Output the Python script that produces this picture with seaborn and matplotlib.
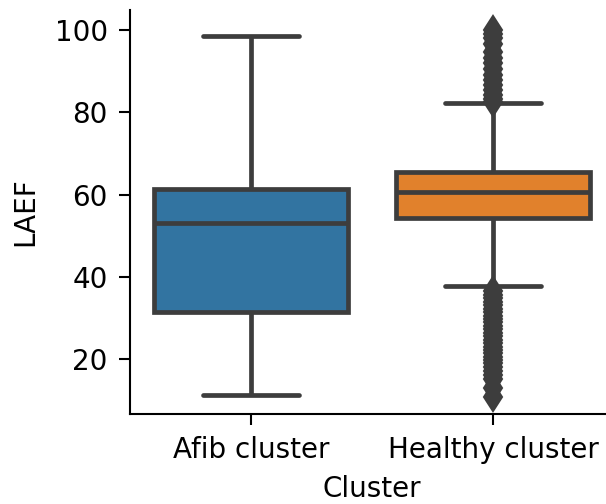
import numpy as np
import pandas as pd
import seaborn as sns
import matplotlib
matplotlib.use("Agg")
import matplotlib.pyplot as plt

# ---- data ----
clusters = ["Afib cluster", "Healthy cluster"]
box_colors = ["#1f77b4", "#ff7f0e"]

# Afib cluster: whisker low, Q1, median, Q3, whisker high
afib_values = [11.4, 31.4, 53.1, 61.5, 98.6]
afib_counts = [1, 1, 1, 1, 1]

# Healthy cluster core (whisker low, Q1, median, Q3, whisker high) with weights
healthy_core_values = [37.7, 54.4, 60.6, 65.6, 82.2]
healthy_core_counts = [1, 40, 40, 40, 1]

# Healthy cluster outliers
healthy_upper_outliers = [82.6, 83.3, 84.2, 85.4, 86.6, 87.8, 89.1, 90.5, 91.9,
                          93.2, 94.7, 96.5, 98.0, 99.0, 100.0]
healthy_lower_outliers = [36.5, 35.6, 34.8, 34.0, 33.1, 32.3, 31.5, 30.6, 29.8,
                          29.0, 28.1, 27.3, 26.5, 25.6, 24.8, 24.0, 23.1, 22.3,
                          21.5, 20.6, 19.8, 19.0, 18.1, 17.2, 16.3, 15.2, 13.0,
                          10.8]

afib = list(np.repeat(afib_values, afib_counts))
healthy = (healthy_lower_outliers
           + list(np.repeat(healthy_core_values, healthy_core_counts))
           + healthy_upper_outliers)

df = pd.DataFrame({
    "Cluster": [clusters[0]] * len(afib) + [clusters[1]] * len(healthy),
    "LAEF": afib + healthy,
})

sns.set_theme(style="ticks")
plt.rcParams["font.family"] = ["DejaVu Sans"]

fig = plt.figure(figsize=(6.06, 5.04), dpi=100)
W, H = 606, 504
ax = fig.add_axes([130 / W, (H - 414) / H, 484 / W, 404 / H])

gray = "#3d3d3d"
sns.boxplot(
    data=df, x="Cluster", y="LAEF", hue="Cluster", legend=False,
    order=clusters, hue_order=clusters, palette=box_colors, ax=ax, width=0.8,
    linewidth=3.4, linecolor=gray, saturation=0.75,
    flierprops=dict(marker="d", markersize=14.5, markerfacecolor=gray,
                    markeredgecolor=gray, markeredgewidth=1.5),
)

ax.set_xlim(-0.5, 1.5)
ax.set_ylim(6.73, 104.86)
ax.set_yticks([20, 40, 60, 80, 100])
sns.despine(ax=ax)
for s in ["left", "bottom"]:
    ax.spines[s].set_linewidth(1.5)
    ax.spines[s].set_color("black")
ax.tick_params(axis="both", labelsize=20, length=8, width=1.5, pad=8,
               color="black", labelcolor="black")
ax.set_xlabel("Cluster", fontsize=20, color="black", labelpad=8)
ax.set_ylabel("LAEF", fontsize=20, color="black", labelpad=11)

fig.savefig("out.png", dpi=100)
